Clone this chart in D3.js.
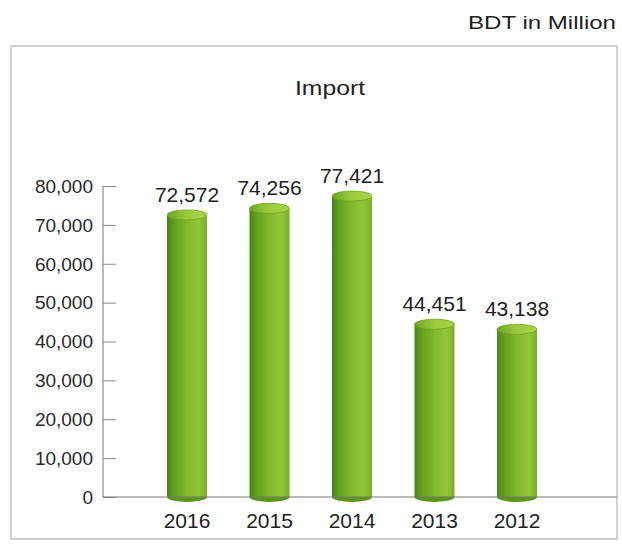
<!DOCTYPE html>
<html>
<head>
<meta charset="utf-8">
<script src="https://cdn.jsdelivr.net/npm/d3@7"></script>
<style>
  html, body { margin: 0; padding: 0; background: #fff; }
  svg { display: block; font-family: "Liberation Sans", Arial, sans-serif; }
</style>
</head>
<body>
<svg id="chart" width="622" height="547"></svg>
<script>
// Import values, BDT in Million
const years = ["2016", "2015", "2014", "2013", "2012"];
const importValues = [72572, 74256, 77421, 44451, 43138];
const yTicks = [0, 10000, 20000, 30000, 40000, 50000, 60000, 70000, 80000];
const chartTitle = "Import";
const unitLabel = "BDT in Million";

const svg = d3.select("#chart");
const fmt = d3.format(",");

// plot geometry
const axisX = 103, axisRight = 617;
const y = d3.scaleLinear().domain([0, 80000]).range([497, 186]);
const x = d3.scalePoint().domain(years).range([187, 517]);
const barW = 40, capRy = 5;

// gradients for the cylinder body and caps
const defs = svg.append("defs");
const body = defs.append("linearGradient").attr("id", "barBody")
  .attr("x1", "0%").attr("x2", "100%").attr("y1", "0%").attr("y2", "0%");
[["0%", "#4c8614"], ["18%", "#63a01d"], ["50%", "#82b92c"], ["80%", "#92c639"], ["100%", "#79ad27"]]
  .forEach(([o, c]) => body.append("stop").attr("offset", o).attr("stop-color", c));
const cap = defs.append("linearGradient").attr("id", "barCap")
  .attr("x1", "0%").attr("x2", "100%").attr("y1", "0%").attr("y2", "0%");
[["0%", "#6ea524"], ["50%", "#9ccd3e"], ["100%", "#a6d446"]]
  .forEach(([o, c]) => cap.append("stop").attr("offset", o).attr("stop-color", c));

// unit label above the frame
svg.append("text")
  .attr("x", 468).attr("y", 29)
  .attr("font-size", 18.5).attr("fill", "#222")
  .attr("textLength", 148).attr("lengthAdjust", "spacingAndGlyphs")
  .text(unitLabel);

// frame
svg.append("rect")
  .attr("x", 11).attr("y", 46).attr("width", 606).attr("height", 493)
  .attr("fill", "#fff").attr("stroke", "#c4c4c4").attr("stroke-width", 1.5);

// title
svg.append("text")
  .attr("x", 330).attr("y", 95)
  .attr("text-anchor", "middle")
  .attr("font-size", 21).attr("fill", "#222")
  .attr("textLength", 70).attr("lengthAdjust", "spacingAndGlyphs")
  .text(chartTitle);

// y axis with inward ticks
const yAxis = d3.axisRight(y).tickValues(yTicks).tickSize(13).tickFormat("");
const gy = svg.append("g").attr("transform", `translate(${axisX},0)`).call(yAxis);
gy.select(".domain").attr("stroke", "#777").attr("d", `M0,${y(80000)}V${y(0)}`);
gy.selectAll(".tick line").attr("stroke", "#888");

svg.append("g").selectAll("text").data(yTicks).join("text")
  .attr("x", 93).attr("y", d => y(d))
  .attr("dy", "0.36em")
  .attr("text-anchor", "end")
  .attr("font-size", 19).attr("fill", "#2a2a2a")
  .text(d => fmt(d));

// bars drawn as cylinders
const bars = svg.append("g").selectAll("g").data(years).join("g");
// bottom cap
bars.append("ellipse")
  .attr("cx", d => x(d)).attr("cy", y(0))
  .attr("rx", barW / 2).attr("ry", capRy)
  .attr("fill", "#5c9619");
// body
bars.append("rect")
  .attr("x", d => x(d) - barW / 2)
  .attr("y", (d, i) => y(importValues[i]))
  .attr("width", barW)
  .attr("height", (d, i) => y(0) - y(importValues[i]))
  .attr("fill", "url(#barBody)");
// top cap
bars.append("ellipse")
  .attr("cx", d => x(d))
  .attr("cy", (d, i) => y(importValues[i]))
  .attr("rx", barW / 2).attr("ry", capRy)
  .attr("fill", "url(#barCap)")
  .attr("stroke", "#6fa622").attr("stroke-width", 0.8);

// x axis line drawn over the bars
svg.append("line")
  .attr("x1", axisX).attr("x2", axisRight)
  .attr("y1", y(0)).attr("y2", y(0))
  .attr("stroke", "#777").attr("stroke-width", 1.2);

// value labels
svg.append("g").selectAll("text").data(years).join("text")
  .attr("x", d => x(d))
  .attr("y", (d, i) => y(importValues[i]) - 13)
  .attr("text-anchor", "middle")
  .attr("font-size", 21).attr("fill", "#222")
  .text((d, i) => fmt(importValues[i]));

// category labels
svg.append("g").selectAll("text").data(years).join("text")
  .attr("x", d => x(d)).attr("y", 528)
  .attr("text-anchor", "middle")
  .attr("font-size", 21).attr("fill", "#222")
  .text(d => d);
</script>
</body>
</html>
